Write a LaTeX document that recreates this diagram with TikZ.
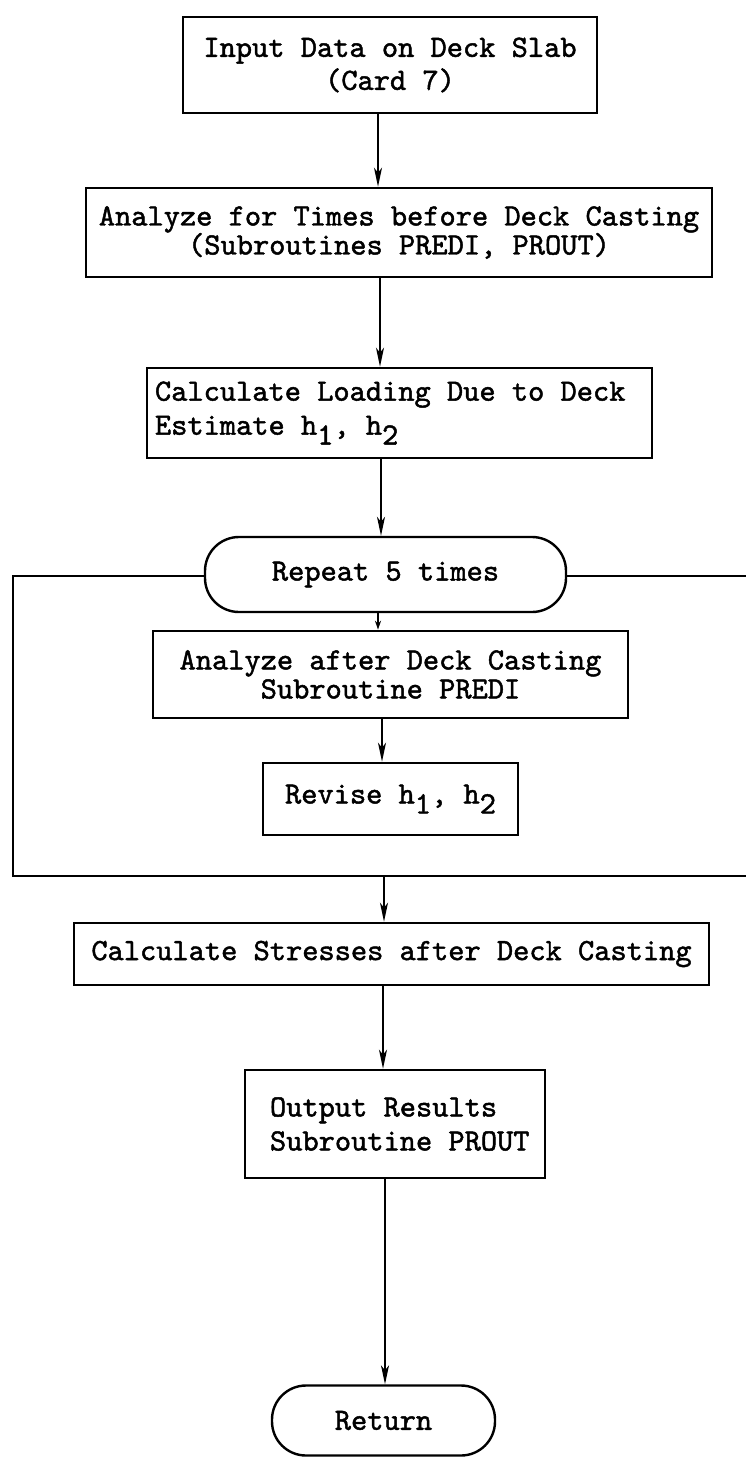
\documentclass[tikz,border=0pt]{standalone}
\usepackage{fontspec}
\usetikzlibrary{arrows.meta,calc}
\newfontfamily\typew{lmmono10-regular.otf}[FakeBold=1.5]
\newcommand{\sub}[1]{\raisebox{-0.32em}{#1}}
\begin{document}
\begin{tikzpicture}[x=1pt,y=-1pt,
  tw/.style={font=\typew\fontsize{30.9pt}{#1}\selectfont},
  flowbox/.style={draw, line width=2.6pt, inner sep=0pt, align=center},
  leftbox/.style={draw, line width=2.6pt, inner ysep=0pt, align=left},
  termbox/.style={draw, line width=2.4pt, inner sep=0pt, rounded corners=34pt, align=center},
  arr/.style={line width=1.6pt, -{Stealth[length=19pt,width=8pt,inset=5pt]}},
  shortarr/.style={line width=1.6pt, -{Stealth[length=9pt,width=6pt,inset=3pt]}},
  loopline/.style={line width=2.8pt}]
\useasboundingbox (0,0) rectangle (746,1457);

\node[flowbox, tw=33pt, minimum width=414pt, minimum height=96pt] (b1) at (390,65)
  {Input Data on Deck Slab\\(Card 7)};
\node[flowbox, tw=29pt, minimum width=626pt, minimum height=89pt] (b2) at (399,232.5)
  {Analyze for Times before Deck Casting\\(Subroutines PREDI, PROUT)};
\node[leftbox, tw=34pt, inner xsep=8pt, minimum height=90pt] (b3) at (399.5,413)
  {\makebox[489pt][l]{Calculate Loading Due to Deck}\\
   \makebox[489pt][l]{Estimate h\sub{1}, h\sub{2}}};
\node[termbox, tw=32pt, minimum width=361pt, minimum height=75pt] (rep) at (385.5,574.5)
  {Repeat 5 times};
\node[flowbox, tw=29pt, minimum width=475pt, minimum height=87pt] (b4) at (390.5,674.5)
  {Analyze after Deck Casting\\Subroutine PREDI};
\node[flowbox, tw=32pt, minimum width=255pt, minimum height=72pt] (rev) at (390.5,799)
  {Revise h\sub{1}, h\sub{2}};
\node[flowbox, tw=32pt, minimum width=635pt, minimum height=62pt] (b6) at (391.5,954)
  {Calculate Stresses after Deck Casting};
\node[leftbox, tw=34pt, inner xsep=25pt, minimum height=108pt] (b7) at (395,1124)
  {\makebox[250pt][l]{Output Results}\\
   \makebox[250pt][l]{Subroutine PROUT}};
\node[termbox, tw=32pt, minimum width=223pt, minimum height=70pt] (ret) at (383.5,1420.5)
  {Return};

% loop frame around the repeated steps
\coordinate (loopL) at (13,576);
\coordinate (loopT) at (746,576);
\coordinate (loopB) at (746,876);
\coordinate (ax) at (384,0);
\coordinate (join) at (ax |- loopB);
\draw[loopline] (rep.west |- loopL) -- (loopL) |- (loopB);
\draw[loopline] (rep.east |- loopT) -- (loopT);

% flow connectors
\draw[arr] (b1.south -| 378,0) -- (b2.north -| 378,0);
\draw[arr] (b2.south -| 380,0) -- (b3.north -| 380,0);
\draw[arr] (b3.south -| 381,0) -- (rep.north -| 381,0);
\draw[shortarr] (rep.south -| 378,0) -- (b4.north -| 378,0);
\draw[arr] (b4.south -| 382,0) -- (rev.north -| 382,0);
\draw[arr] (join) -- (b6.north -| join);
\draw[arr] (b6.south -| 383,0) -- (b7.north -| 383,0);
\draw[arr] (b7.south -| 385,0) -- (ret.north -| 385,0);
\end{tikzpicture}
\end{document}
